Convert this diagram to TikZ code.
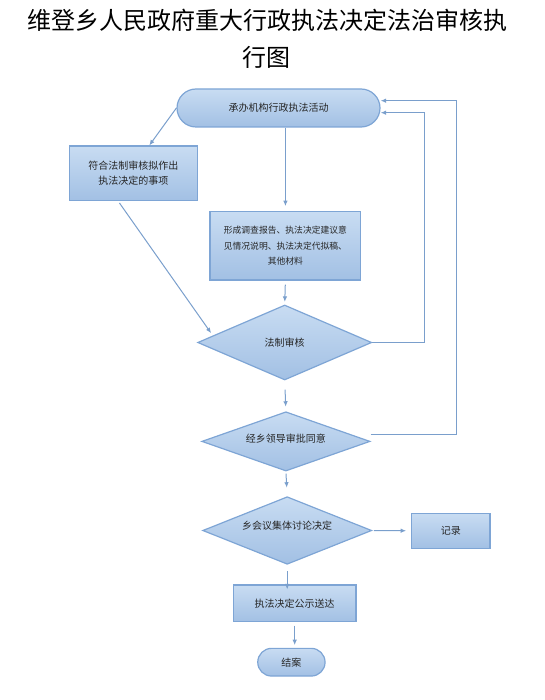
\documentclass[tikz,border=0pt]{standalone}
\usepackage{fontspec}
\newfontfamily\cjk{Noto Sans CJK SC}
\usetikzlibrary{shapes.geometric,arrows.meta,calc}
\definecolor{bfillA}{HTML}{C8DCF2}
\definecolor{bfillB}{HTML}{A2C0E4}
\definecolor{bdraw}{HTML}{7EA5D5}
\definecolor{arrc}{HTML}{7A9FCC}
\definecolor{txtc}{HTML}{262626}
\begin{document}
\begin{tikzpicture}[x=1pt,y=-1pt,
 shadedbox/.style={draw=bdraw,line width=1.2pt,top color=bfillA,bottom color=bfillB,text=txtc,
   font=\cjk\fontsize{10}{15.5}\selectfont,inner sep=0pt,align=center},
 boxnode/.style={shadedbox,rectangle},
 pillnode/.style={shadedbox,rectangle,rounded corners=#1},
 dianode/.style={shadedbox,diamond,shape aspect=#1},
 arr/.style={draw=arrc,line width=1pt,-{Latex[length=5.5pt,width=4.5pt]}},
 titletext/.style={font=\cjk\fontsize{24}{24}\selectfont,text=black,inner sep=0pt}]
\useasboundingbox (0,0) rectangle (544,700);

\node[titletext] (t1) at (267.5,20) {维登乡人民政府重大行政执法决定法治审核执};
\node[titletext] (t2) at (266,57) {行图};

\node[pillnode=19pt, minimum width=203pt, minimum height=38pt] (start) at (278.5,108) {承办机构行政执法活动};
\node[boxnode, minimum width=128pt, minimum height=54.7pt] (box1) at (133.3,173.4) {符合法制审核拟作出\\执法决定的事项};
\node[boxnode, minimum width=150.7pt, minimum height=68.3pt, font=\cjk\fontsize{8.8}{15.3}\selectfont] (box2) at (285.4,245.9) {形成调查报告、执法决定建议意\\见情况说明、执法决定代拟稿、\\其他材料};
\node[dianode=2.32, minimum width=174pt, minimum height=75pt] (d1) at (284.7,342.5) {法制审核};
\node[dianode=2.84, minimum width=168.3pt, minimum height=59.3pt] (d2) at (285.9,441.4) {\raisebox{6pt}{经乡领导审批同意}};
\node[dianode=2.5, minimum width=169pt, minimum height=67.6pt] (d3) at (287.2,530.5) {\raisebox{10pt}{乡会议集体讨论决定}};
\node[boxnode, minimum width=78.3pt, minimum height=35pt] (rec) at (450.9,530.8) {记录};
\node[boxnode, minimum width=122.7pt, minimum height=36.7pt] (box3) at (294.7,603.4) {执法决定公示送达};
\node[pillnode=13.8pt, minimum width=67.3pt, minimum height=27.7pt] (end) at (291.4,662.2) {结案};

\coordinate (r1) at (424,112.7);
\coordinate (r2) at (456.7,100.7);

\draw[arr] (start.west) -- ([xshift=16pt]box1.north);
\draw[arr, shorten >=5pt] (start.south -| box2.north) -- (box2.north);
\draw[arr, shorten <=2pt, shorten >=3pt] ([xshift=-15pt]box1.south) -- ($(d1.west)!0.18!(d1.north)$);
\draw[arr, shorten <=4pt, shorten >=2.5pt] (box2.south) -- (d1.north);
\draw[arr, shorten <=9pt, shorten >=4.4pt] (d1.south) -- (d2.north);
\draw[arr, shorten <=2pt, shorten >=8.4pt] (d2.south) -- (d3.north);
\draw[arr, shorten <=1.5pt, shorten >=5pt] (d3.east) -- (rec.west);
\draw[arr, shorten <=6.4pt] (d3.south) -- ($(d3.south |- box3.north)+(0,5)$);
\draw[arr, shorten <=3.3pt, shorten >=2.6pt] (box3.south) -- (box3.south |- end.north);
\draw[arr] (d1.east) -| (r1) -- (r1 -| start.east);
\draw[arr] ([yshift=7pt]d2.east) -| (r2) -- (r2 -| start.east);
\end{tikzpicture}
\end{document}
